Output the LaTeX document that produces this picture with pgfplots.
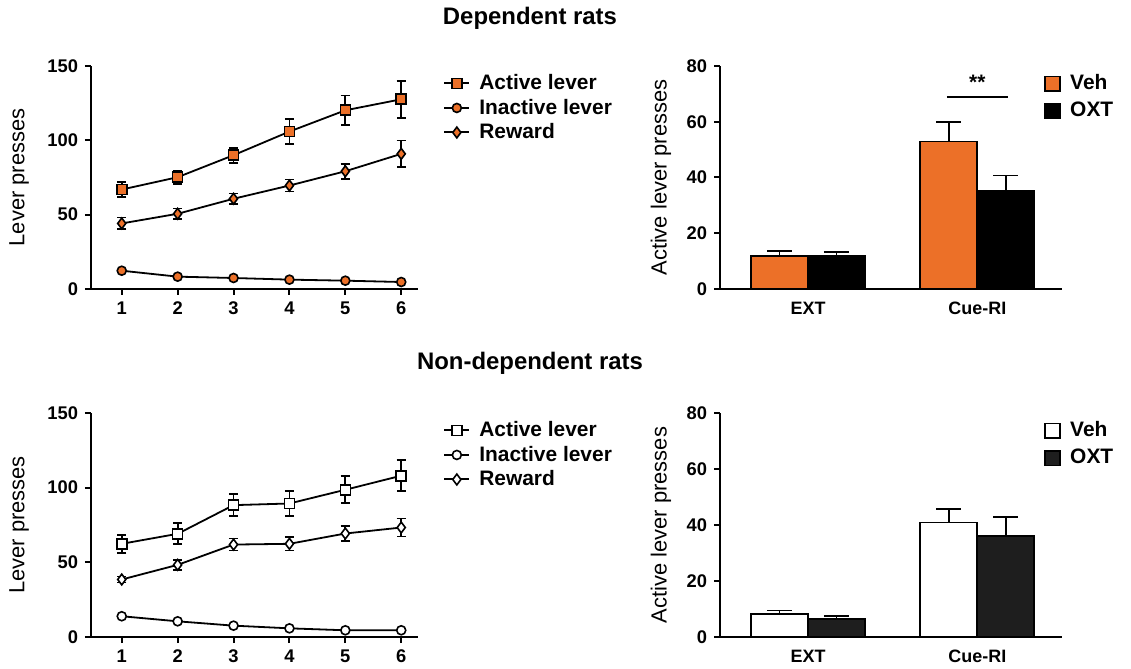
\documentclass[border=0pt]{standalone}
\usepackage{fontspec}
\setmainfont{Liberation Sans}
\usepackage{pgfplots}
\pgfplotsset{compat=1.18}
\definecolor{veh}{RGB}{236,112,40}
\definecolor{oxtdark}{RGB}{30,30,30}

\pgfplotsset{
  base/.style={
    scale only axis, clip=false,
    axis x line=bottom, axis y line=left,
    axis line style={-, line width=1bp},
    tick align=outside, major tick length=3bp,
    tick style={line width=1bp, black},
    /pgf/number format/assume math mode=true,
    ticklabel style={font=\fontsize{9.2}{11}\selectfont\bfseries},
    ylabel style={font=\fontsize{11}{13}\selectfont},
    anchor=south west,
  },
  lines/.style={base,
    width=163.5bp, height=111.5bp,
    xmin=0.45, xmax=6.3, ymin=0, ymax=150,
    xtick={1,...,6}, ytick={0,50,100,150},
    ylabel={Lever presses},
    ylabel style={at={(axis description cs:-0.22,0.5)}, anchor=center},
    legend style={at={(1.058,1.0)}, anchor=north west, draw=none, fill=none,
      font=\fontsize{10.5}{12}\selectfont\bfseries, row sep=-0.8bp, column sep=2.5bp},
    legend cell align=left,
    legend image code/.code={\draw[mark repeat=2,mark phase=2,##1,line width=1bp]
      plot coordinates {(0bp,0bp) (6.25bp,0bp) (12.5bp,0bp)};},
  },
  bars/.style={base,
    width=171bp, height=111.5bp,
    xmin=-0.52, xmax=1.5, ymin=0, ymax=80,
    ybar=0pt, bar width=28.5bp,
    xtick={0,1}, xticklabels={EXT,Cue-RI},
    major x tick style={draw=none},
    xticklabel style={font=\fontsize{9}{10}\selectfont\bfseries},
    ytick={0,20,40,60,80},
    ylabel={Active lever presses},
    ylabel style={at={(axis description cs:-0.173,0.5)}, anchor=center},
    legend style={at={(0.93,0.998)}, anchor=north west, draw=none, fill=none,
      font=\fontsize{10.5}{12}\selectfont\bfseries, row sep=0.7bp, column sep=2.5bp},
    legend cell align=left,
  },
  ser/.style={black, line width=0.9bp,
    mark options={solid, line width=0.8bp, draw=black, fill=#1},
    /pgfplots/error bars/y dir=both, /pgfplots/error bars/y explicit,
    /pgfplots/error bars/error bar style={line width=0.9bp},
    /pgfplots/error bars/error mark options={rotate=90, mark size=2.3bp, line width=0.9bp}},
  bar/.style={fill=#1, draw=black, line width=0.9bp,
    legend image code/.code={\draw[##1, line width=0.9bp] (0bp,-3.7bp) rectangle (7.5bp,3.7bp);},
    /pgfplots/error bars/y dir=plus, /pgfplots/error bars/y explicit,
    /pgfplots/error bars/error bar style={line width=0.9bp},
    /pgfplots/error bars/error mark options={rotate=90, mark size=6.3bp, line width=0.9bp}},
}

\begin{document}
\begin{tikzpicture}
\path[use as bounding box] (0,0) rectangle (565.5bp,334.5bp);

\node[font=\fontsize{12}{14}\selectfont\bfseries] at (265bp,325.5bp) {Dependent rats};
\node[font=\fontsize{12}{14}\selectfont\bfseries] at (265bp,153bp) {Non-dependent rats};

% Dependent rats, sessions
\begin{axis}[lines, at={(45.5bp,190bp)}]
\addplot[ser=veh, mark=square*, mark size=2.5bp] coordinates {
  (1,66.9) +- (0,5) (2,75.2) +- (0,4.5) (3,90) +- (0,5)
  (4,105.9) +- (0,8.5) (5,120.2) +- (0,10) (6,127.6) +- (0,12.5)};
\addlegendentry{Active lever}
\addplot[ser=veh, mark=*, mark size=2.25bp] coordinates {
  (1,12.3) +- (0,0) (2,8.3) +- (0,0) (3,7.4) +- (0,0)
  (4,6.3) +- (0,0) (5,5.6) +- (0,0) (6,4.7) +- (0,0)};
\addlegendentry{Inactive lever}
\addplot[ser=veh, mark=diamond*, mark size=2.7bp] coordinates {
  (1,44.1) +- (0,4) (2,50.6) +- (0,3.5) (3,60.7) +- (0,3.5)
  (4,69.6) +- (0,4) (5,79.2) +- (0,5) (6,90.9) +- (0,9)};
\addlegendentry{Reward}
\end{axis}

% Dependent rats, reinstatement
\begin{axis}[bars, at={(360bp,190bp)}]
\addplot[bar=veh] coordinates {(0,11.9) +- (0,1.7) (1,52.9) +- (0,6.9)};
\addlegendentry{Veh}
\addplot[bar=black] coordinates {(0,11.9) +- (0,1.5) (1,35.2) +- (0,5.5)};
\addlegendentry{OXT}
\draw[line width=0.9bp] (axis cs:0.82,68.8) -- (axis cs:1.18,68.8);
\node[font=\fontsize{10.5}{12}\selectfont\bfseries] at (axis cs:1,74) {**};
\end{axis}

% Non-dependent rats, sessions
\begin{axis}[lines, at={(45.5bp,16bp)}, height=112bp]
\addplot[ser=white, mark=square*, mark size=2.5bp] coordinates {
  (1,62.4) +- (0,6) (2,69.1) +- (0,7) (3,88.3) +- (0,7.5)
  (4,89.4) +- (0,8.5) (5,98.6) +- (0,9) (6,108) +- (0,10.5)};
\addlegendentry{Active lever}
\addplot[ser=white, mark=*, mark size=2.25bp] coordinates {
  (1,13.9) +- (0,0) (2,10.5) +- (0,0) (3,7.6) +- (0,0)
  (4,5.8) +- (0,0) (5,4.5) +- (0,0) (6,4.5) +- (0,0)};
\addlegendentry{Inactive lever}
\addplot[ser=white, mark=diamond*, mark size=2.7bp] coordinates {
  (1,38.5) +- (0,2) (2,48.3) +- (0,3.5) (3,61.9) +- (0,4)
  (4,62.4) +- (0,4.5) (5,69.3) +- (0,5) (6,73.3) +- (0,6)};
\addlegendentry{Reward}
\end{axis}

% Non-dependent rats, reinstatement
\begin{axis}[bars, at={(360bp,16bp)}, height=112bp]
\addplot[bar=white] coordinates {(0,8.2) +- (0,1.3) (1,40.9) +- (0,4.9)};
\addlegendentry{Veh}
\addplot[bar=oxtdark] coordinates {(0,6.4) +- (0,1.1) (1,36.0) +- (0,6.9)};
\addlegendentry{OXT}
\end{axis}
\end{tikzpicture}
\end{document}
